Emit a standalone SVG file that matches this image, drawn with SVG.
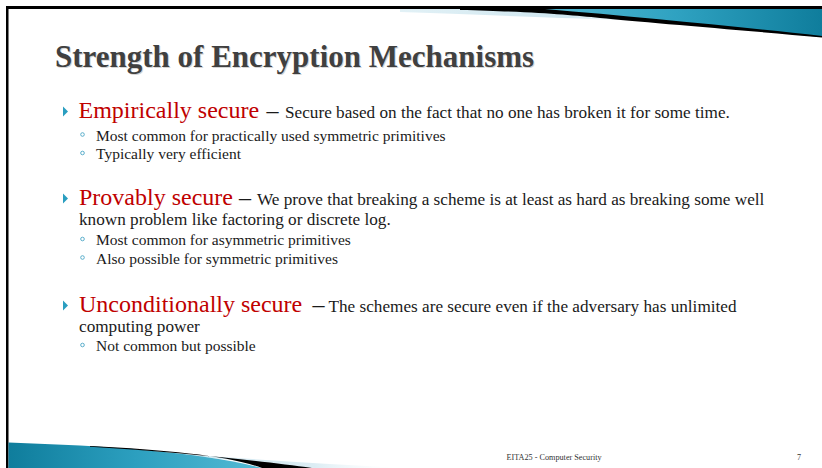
<svg xmlns="http://www.w3.org/2000/svg" width="822" height="468" viewBox="0 0 822 468">
<defs>
<linearGradient id="tealR" x1="0" y1="0" x2="1" y2="0">
<stop offset="0" stop-color="#55bad4"/>
<stop offset="0.5" stop-color="#2fa2c1"/>
<stop offset="1" stop-color="#0f7d9c"/>
</linearGradient>
<linearGradient id="tealL" x1="0" y1="0" x2="1" y2="0">
<stop offset="0" stop-color="#0f7d9c"/>
<stop offset="0.5" stop-color="#2c9fbf"/>
<stop offset="1" stop-color="#55bad4"/>
</linearGradient>
<linearGradient id="paleR" x1="0" y1="0" x2="1" y2="0">
<stop offset="0" stop-color="#e2f1f6"/>
<stop offset="0.6" stop-color="#cfe6ef"/>
<stop offset="1" stop-color="#ffffff" stop-opacity="0"/>
</linearGradient>
<linearGradient id="paleL" x1="0" y1="0" x2="1" y2="0">
<stop offset="0" stop-color="#cfe6ef"/>
<stop offset="0.6" stop-color="#dcedf4"/>
<stop offset="1" stop-color="#ffffff" stop-opacity="0"/>
</linearGradient>
</defs>
<style>
.title{font-family:"Liberation Serif","Times New Roman",serif;font-weight:bold;font-size:31px;fill:#404040}
.shadow{font-family:"Liberation Serif","Times New Roman",serif;font-weight:bold;font-size:31px;fill:#d4d4d4}
.head{font-family:"Liberation Serif","Times New Roman",serif;font-size:24px;fill:#c00000}
.dash{font-family:"Liberation Serif","Times New Roman",serif;font-size:24px;fill:#1a1a1a}
.body{font-family:"Liberation Serif","Times New Roman",serif;font-size:17.2px;fill:#1a1a1a}
.sub{font-family:"Liberation Serif","Times New Roman",serif;font-size:15.5px;fill:#1a1a1a}
.foot{font-family:"Liberation Serif","Times New Roman",serif;font-size:8.2px;fill:#333333}
.tri{fill:#2a9ec0}
.dot{fill:none;stroke:#5aaecb;stroke-width:1}
</style>
<rect x="0" y="0" width="822" height="468" fill="#ffffff"/>

<!-- top-right decoration -->
<path d="M400,9 L545,9 C600,12 640,16 680,22 C620,20 540,17 400,12 Z" fill="url(#paleR)"/>
<path d="M530,9 L822,9 L822,37 C740,29 640,19 545,11 Z" fill="url(#tealR)"/>
<path d="M460,9 L545,9 C640,17 740,27 822,36 L822,37.5 C740,30 640,22 600,18 C570,15 540,12 460,10 Z" fill="#000000"/>
<rect x="6" y="6" width="816" height="3" fill="#000000"/>
<rect x="6" y="6" width="2.5" height="462" fill="#000000"/>

<!-- bottom-left decoration -->
<path d="M180,454 C260,460 330,464 405,468 L280,468 C260,463 220,458 180,455 Z" fill="url(#paleL)"/>
<path d="M8.5,442.5 C110,446 200,452 262,468 L8.5,468 Z" fill="url(#tealL)"/>
<path d="M90,446 C170,450 230,456 262,468 L312,468 C260,461 180,452 90,446.8 Z" fill="#000000"/>

<!-- title -->
<text class="shadow" x="56" y="68">Strength of Encryption Mechanisms</text>
<text class="title" x="55" y="67">Strength of Encryption Mechanisms</text>

<!-- block 1 -->
<polygon class="tri" points="63,106.5 68,111.5 63,116.5"/>
<text class="head" x="78.5" y="118">Empirically secure</text>
<text class="dash" x="266.5" y="118">–</text>
<text class="body" x="285" y="118">Secure based on the fact that no one has broken it for some time.</text>
<circle class="dot" cx="82.5" cy="134.5" r="1.8"/>
<text class="sub" x="96" y="140.5">Most common for practically used symmetric primitives</text>
<circle class="dot" cx="82.5" cy="153" r="1.8"/>
<text class="sub" x="96" y="159">Typically very efficient</text>

<!-- block 2 -->
<polygon class="tri" points="63,193.5 68,198.5 63,203.5"/>
<text class="head" x="79" y="205">Provably secure</text>
<text class="dash" x="239" y="205">–</text>
<text class="body" x="257" y="205">We prove that breaking a scheme is at least as hard as breaking some well</text>
<text class="body" x="79" y="225">known problem like factoring or discrete log.</text>
<circle class="dot" cx="82.5" cy="239" r="1.8"/>
<text class="sub" x="96" y="245">Most common for asymmetric primitives</text>
<circle class="dot" cx="82.5" cy="257.5" r="1.8"/>
<text class="sub" x="96" y="263.5">Also possible for symmetric primitives</text>

<!-- block 3 -->
<polygon class="tri" points="63,300.5 68,305.5 63,310.5"/>
<text class="head" x="79" y="312">Unconditionally secure</text>
<text class="dash" x="312.5" y="312">–</text>
<text class="body" x="328.5" y="312">The schemes are secure even if the adversary has unlimited</text>
<text class="body" x="79" y="332">computing power</text>
<circle class="dot" cx="82.5" cy="345" r="1.8"/>
<text class="sub" x="96" y="351">Not common but possible</text>

<!-- footer -->
<text class="foot" x="506.5" y="459.5">EITA25 - Computer Security</text>
<text class="foot" x="797" y="459.5">7</text>
</svg>
